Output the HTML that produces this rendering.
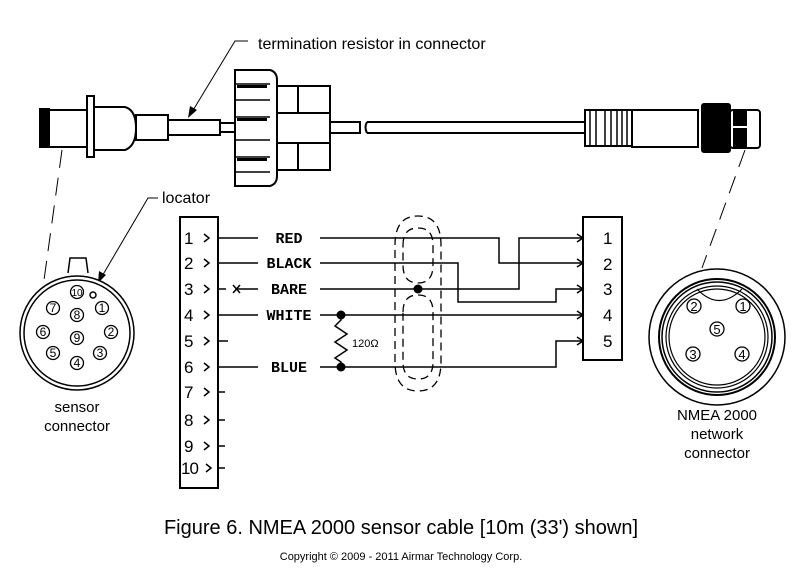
<!DOCTYPE html>
<html><head><meta charset="utf-8"><style>body{margin:0;background:#fff}svg{display:block}</style></head>
<body>
<svg width="798" height="576" viewBox="0 0 798 576" xmlns="http://www.w3.org/2000/svg" font-family="Liberation Sans, sans-serif">
<g fill="none" stroke="#000" stroke-width="2">
<rect x="40" y="109" width="9" height="38" fill="#000"/>
<rect x="49" y="110" width="40" height="37" fill="#fff"/>
<rect x="87" y="96" width="7" height="61" fill="#fff"/>
<path d="M94 107 H125 Q136 110 136 128 Q136 146 125 150 H94 Z" fill="#fff"/>
<rect x="136" y="115" width="32" height="25" fill="#fff"/>
<rect x="168" y="120" width="52" height="15" fill="#fff"/>
<rect x="220" y="123" width="15" height="9" fill="#fff"/>
<path d="M235 70 H270 Q277 72 277 80 V176 Q277 184 270 186 H235 Z" fill="#fff"/>
<path d="M235 84 H270 M235 100 H270 M235 117 H270 M235 140 H270 M235 157 H270 M235 172 H270" stroke-width="1.5"/>
<path d="M237 85 h30 v3 h-30z M237 118 h30 v3 h-30z M237 158 h30 v3 h-30z" fill="#000" stroke="none"/>
<rect x="277" y="86" width="53" height="84" fill="#fff"/>
<path d="M277 113 H330 M277 143 H330 M298 86 V113 M298 143 V170"/>
<rect x="330" y="122" width="30" height="11" fill="#fff"/>
<path d="M367 122 H590 M367 133 H590 M367 122 Q364 127 367 133"/>
<rect x="585" y="110" width="47" height="36" fill="#fff"/>
<path d="M590 110 V146 M596 110 V146 M605 110 V146 M611 110 V146 M617 110 V146 M622 110 V146 M627 110 V146" stroke-width="1.5"/>
<rect x="632" y="110" width="66" height="37" fill="#fff"/>
<rect x="702" y="104" width="28" height="48" rx="2" fill="#000"/>
<rect x="730" y="110" width="30" height="38" rx="3" fill="#fff"/>
<rect x="733" y="110" width="14" height="38" fill="#000" stroke="none"/>
<path d="M733 127 H755" stroke="#fff" stroke-width="2"/>
</g>
<g stroke="#000" stroke-width="1" stroke-dasharray="18 10" fill="none">
<path d="M62 150 L44 280"/>
<path d="M745 150 L702 268"/>
</g>
<path d="M248 41 H235 L192 112" stroke="#000" stroke-width="1" fill="none"/>
<path d="M188 118 L190 106 L197 110 Z" fill="#000"/>
<text x="258" y="49" font-size="16">termination resistor in connector</text>
<path d="M158 198 H148 L101 278" stroke="#000" stroke-width="1" fill="none"/>
<path d="M98 283 L99 271 L106 275 Z" fill="#000"/>
<text x="162" y="203" font-size="16">locator</text>
<g fill="none" stroke="#000" stroke-width="1.5">
<path d="M68 273 L70 258 H86 L88 273"/>
<circle cx="77" cy="333" r="57" fill="#fff"/>
<circle cx="77" cy="333" r="53"/>
<circle cx="93" cy="295" r="3"/>
</g>
<g stroke="#000" stroke-width="1.3" fill="none">
<circle cx="77" cy="292" r="6.5"/><circle cx="102" cy="308" r="6.5"/><circle cx="111" cy="332" r="6.5"/><circle cx="100" cy="353" r="6.5"/><circle cx="77" cy="363" r="6.5"/><circle cx="53" cy="353" r="6.5"/><circle cx="43" cy="332" r="6.5"/><circle cx="53" cy="308" r="6.5"/><circle cx="77" cy="315" r="6.5"/><circle cx="77" cy="338" r="6.5"/>
</g>
<g font-size="12" text-anchor="middle" fill="#000">
<text x="77" y="296" font-size="10">10</text><text x="102" y="312">1</text><text x="111" y="336">2</text><text x="100" y="357">3</text><text x="77" y="367">4</text><text x="53" y="357">5</text><text x="43" y="336">6</text><text x="53" y="312">7</text><text x="77" y="319">8</text><text x="77" y="342">9</text>
</g>
<text x="77" y="412" font-size="15" text-anchor="middle">sensor</text>
<text x="77" y="431" font-size="15" text-anchor="middle">connector</text>
<g fill="none" stroke="#000">
<circle cx="717" cy="337" r="68" stroke-width="1.5"/>
<circle cx="717" cy="337" r="58" stroke-width="2"/>
<circle cx="717" cy="337" r="55" stroke-width="1.5"/>
<circle cx="717" cy="337" r="51" stroke-width="1.2"/>
<circle cx="717" cy="337" r="48" stroke-width="1.2"/>
<path d="M697 289 Q719 312 742 289" stroke-width="1.2"/>
<g stroke-width="1.3"><circle cx="743" cy="306" r="7"/><circle cx="694" cy="306" r="7"/><circle cx="717" cy="329" r="7"/><circle cx="693" cy="354" r="7"/><circle cx="742" cy="354" r="7"/></g>
</g>
<g font-size="13" text-anchor="middle" fill="#000">
<text x="743" y="311">1</text><text x="694" y="311">2</text><text x="717" y="334">5</text><text x="693" y="359">3</text><text x="742" y="359">4</text>
</g>
<text x="717" y="420" font-size="15" text-anchor="middle">NMEA 2000</text>
<text x="717" y="439" font-size="15" text-anchor="middle">network</text>
<text x="717" y="458" font-size="15" text-anchor="middle">connector</text>
<g fill="none" stroke="#000" stroke-width="2">
<rect x="180" y="217" width="38" height="271"/>
<rect x="583" y="217" width="39" height="143"/>
</g>
<g fill="none" stroke="#000" stroke-width="1.5">
<path d="M218 238 H258 M320 238 H499 V263 H583"/>
<path d="M218 263 H258 M320 263 H458 V302 H556 V289 H583"/>
<path d="M218 289 H226 M236 289 H258 M320 289 H519 V238 H583"/>
<path d="M218 315 H258 M320 315 H583"/>
<path d="M218 341 H228"/>
<path d="M218 367 H258 M320 367 H556 V341 H583"/>
<path d="M218 392 H225 M218 420 H225 M218 446 H225 M218 468 H225"/>
<path d="M233 285 L240 293 M240 285 L233 293"/>
<path d="M341 315 L341 320 L335 326 L347 334 L335 342 L347 350 L335 358 L341 362 L341 367"/>
<path d="M204 234 L209 238 L204 242 M204 259 L209 263 L204 267 M204 285 L209 289 L204 293 M204 311 L209 315 L204 319 M204 337 L209 341 L204 345 M204 363 L209 367 L204 371 M204 388 L209 392 L204 396 M204 416 L209 420 L204 424 M204 442 L209 446 L204 450 M206 464 L211 468 L206 472"/>
<path d="M577 234 L583 238 L577 242 M577 259 L583 263 L577 267 M577 285 L583 289 L577 293 M577 311 L583 315 L577 319 M577 337 L583 341 L577 345"/>
</g>
<g fill="#000"><circle cx="341" cy="315" r="4.5"/><circle cx="341" cy="367" r="4.5"/><circle cx="418" cy="289" r="4.5"/></g>
<g fill="none" stroke="#000" stroke-width="1.3" stroke-dasharray="8 5">
<path d="M395 245 Q395 216 418 216 Q441 216 441 245 V362 Q441 391 418 391 Q395 391 395 362 Z"/>
<path d="M403 245 Q403 228 418 228 Q433 228 433 245 V265 Q433 283 418 283 Q403 283 403 265 Z"/>
<path d="M403 312 Q403 295 418 295 Q433 295 433 312 V362 Q433 379 418 379 Q403 379 403 362 Z"/>
</g>
<g font-family="Liberation Mono, monospace" font-size="15" font-weight="bold" text-anchor="middle" fill="#000">
<text x="289" y="243">RED</text><text x="289" y="268">BLACK</text><text x="289" y="294">BARE</text><text x="289" y="320">WHITE</text><text x="289" y="372">BLUE</text>
</g>
<g font-size="17" fill="#000">
<text x="184" y="244">1</text><text x="184" y="269">2</text><text x="184" y="295">3</text><text x="184" y="321">4</text><text x="184" y="347">5</text><text x="184" y="373">6</text><text x="184" y="398">7</text><text x="184" y="426">8</text><text x="184" y="452">9</text><text x="181" y="474" letter-spacing="-1">10</text>
<text x="603" y="244">1</text><text x="603" y="270">2</text><text x="603" y="295">3</text><text x="603" y="321">4</text><text x="603" y="347">5</text>
</g>
<text x="352" y="347" font-size="11">120Ω</text>
<text x="401" y="534" font-size="20" text-anchor="middle">Figure 6. NMEA 2000 sensor cable [10m (33') shown]</text>
<text x="401" y="560" font-size="11" text-anchor="middle">Copyright © 2009 - 2011 Airmar Technology Corp.</text>
</svg>
</body></html>
